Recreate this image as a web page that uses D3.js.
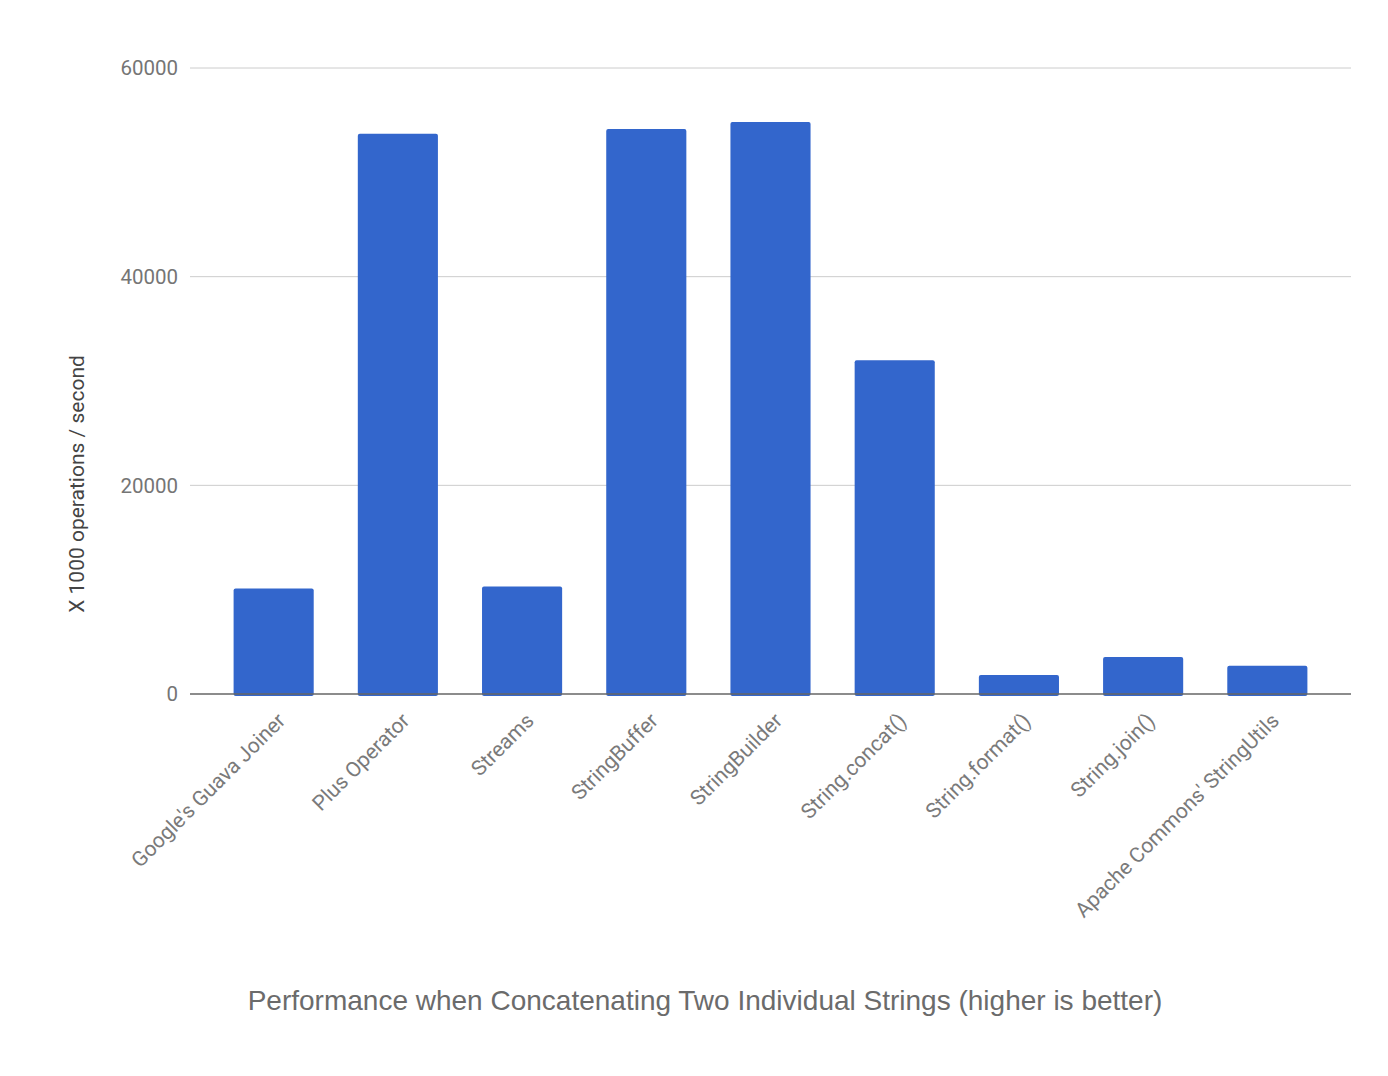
<!DOCTYPE html>
<html>
<head>
<meta charset="utf-8">
<script src="https://cdn.jsdelivr.net/npm/d3@7"></script>
<style>
  html, body { margin: 0; padding: 0; background: #fff; }
  svg { display: block; }
</style>
</head>
<body>
<svg id="chart" width="1388" height="1076"></svg>
<script>
const categories = ["Google's Guava Joiner", "Plus Operator", "Streams", "StringBuffer", "StringBuilder", "String.concat()", "String.format()", "String.join()", "Apache Commons' StringUtils"];
const values = [10100, 53700, 10300, 54150, 54820, 32000, 1830, 3550, 2700];
const yTicks = [0, 20000, 40000, 60000];
const yLabel = "X 1000 operations / second";
const caption = "Performance when Concatenating Two Individual Strings (higher is better)";

(function () {
const svg = d3.select("#chart");
const pLeft = 190, pRight = 1351, pTop = 68, pBottom = 694;

const x = d3.scaleBand().domain(categories).range([pLeft, pRight]).paddingInner(0.355).paddingOuter(0.351);
const y = d3.scaleLinear().domain([0, 60000]).range([pBottom, pTop]);

// gridlines
svg.append("g").selectAll("line").data(yTicks.filter(d => d !== 0)).join("line")
  .attr("x1", pLeft).attr("x2", pRight)
  .attr("y1", d => y(d)).attr("y2", d => y(d))
  .attr("stroke", "#cccccc").attr("stroke-width", 1);

// y tick labels
svg.append("g").selectAll("text").data(yTicks).join("text")
  .attr("x", 178).attr("y", d => y(d))
  .attr("dy", "0.36em")
  .attr("text-anchor", "end")
  .attr("font-family", "Roboto, Arial, sans-serif")
  .attr("font-size", 20.5)
  .attr("fill", "#757575")
  .text(d => d);

// bars
svg.append("g").selectAll("rect").data(values).join("rect")
  .attr("x", (d, i) => x(categories[i]))
  .attr("y", d => y(d))
  .attr("width", x.bandwidth())
  .attr("height", d => y(0) - y(d) + 2)
  .attr("rx", 2).attr("ry", 2)
  .attr("fill", "#3366cc");

// baseline
svg.append("line")
  .attr("x1", pLeft).attr("x2", pRight)
  .attr("y1", y(0)).attr("y2", y(0))
  .attr("stroke", "#666666").attr("stroke-width", 1.6);

// x labels
svg.append("g").selectAll("text").data(categories).join("text")
  .attr("transform", d => `translate(${x(d) + x.bandwidth() / 2 + 13},${y(0) + 28}) rotate(-45)`)
  .attr("text-anchor", "end")
  .attr("font-family", "Roboto, Arial, sans-serif")
  .attr("font-size", 21)
  .attr("fill", "#7a7a7a")
  .text(d => d);

// y axis title
svg.append("text")
  .attr("transform", `translate(84,484) rotate(-90)`)
  .attr("text-anchor", "middle")
  .attr("font-family", "Roboto, Arial, sans-serif")
  .attr("font-size", 21)
  .attr("fill", "#444444")
  .text(yLabel);

// caption
svg.append("text")
  .attr("x", 705).attr("y", 1010)
  .attr("text-anchor", "middle")
  .attr("font-family", "'Liberation Sans', Arial, sans-serif")
  .attr("font-size", 28)
  .attr("fill", "#6b6b6b")
  .text(caption);
})();
</script>
</body>
</html>
